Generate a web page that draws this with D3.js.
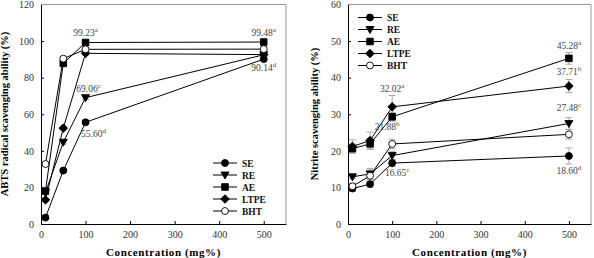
<!DOCTYPE html>
<html>
<head>
<meta charset="utf-8">
<script src="https://cdn.jsdelivr.net/npm/d3@7"></script>
<style>
  body { margin: 0; background: #fff; }
  svg { display: block; font-family: "Liberation Serif", "Times New Roman", serif; }
</style>
</head>
<body>
<div id="chart"></div>
<script>
// concentrations (mg%)
const conc = [10, 50, 100, 500];
const seriesNames = ["SE", "RE", "AE", "LTPE", "BHT"];

// ABTS radical scavenging ability (%)
const abtsSE = [3.5, 29.2, 55.60, 90.14];
const abtsRE = [17.2, 44.7, 69.06, 92.5];
const abtsAE = [18.0, 87.8, 99.23, 99.48];
const abtsLTPE = [13.2, 52.4, 93.3, 92.6];
const abtsBHT = [32.8, 90.4, 95.5, 95.6];
const abtsErr = [0.8, 1.0, 1.0, 0.8];

// nitrite scavenging ability (%)
const nitSE = [9.7, 10.9, 16.65, 18.60];
const nitRE = [12.9, 13.7, 18.7, 27.48];
const nitAE = [20.6, 21.9, 29.3, 45.28];
const nitLTPE = [21.2, 22.8, 32.02, 37.71];
const nitBHT = [10.3, 13.2, 21.88, 24.5];
const nitErrSE = [0.8, 0.8, 1.0, 2.2];
const nitErrRE = [0.5, 1.5, 1.2, 1.6];
const nitErrAE = [1.2, 1.5, 1.2, 1.6];
const nitErrLTPE = [1.8, 2.3, 3.1, 1.8];
const nitErrBHT = [0.8, 1.8, 1.3, 1.3];

const xTicks = [0, 100, 200, 300, 400, 500];
const abtsTicks = [0, 20, 40, 60, 80, 100, 120];
const nitTicks = [0, 10, 20, 30, 40, 50, 60];

// annotations: series, point index, value text, letter
const abtsNotes = [
  ["AE", 2, "99.23", "a"], ["AE", 3, "99.48", "a"], ["SE", 3, "90.14", "d"],
  ["RE", 2, "69.06", "c"], ["SE", 2, "55.60", "d"]
];
const nitNotes = [
  ["AE", 3, "45.28", "a"], ["LTPE", 3, "37.71", "b"], ["LTPE", 2, "32.02", "a"],
  ["RE", 3, "27.48", "c"], ["BHT", 2, "21.88", "b"], ["SE", 2, "16.65", "c"],
  ["SE", 3, "18.60", "d"]
];

const W = 594, H = 258;
const svg = d3.select("#chart").append("svg").attr("width", W).attr("height", H);

// marker shapes, drawn as paths around (0,0)
const shapes = {
  SE: {d: d3.symbol().type(d3.symbolCircle).size(38)(), fill: "#000"},
  RE: {d: "M-4,-3L4,-3L0,4Z", fill: "#000"},
  AE: {d: "M-3.3,-3.3H3.3V3.3H-3.3Z", fill: "#000"},
  LTPE: {d: "M0,-4.3L4.3,0L0,4.3L-4.3,0Z", fill: "#000"},
  BHT: {d: d3.symbol().type(d3.symbolCircle).size(38)(), fill: "#fff"}
};

function marker(g, name, x, y) {
  const s = shapes[name];
  g.append("path")
    .attr("d", s.d)
    .attr("transform", `translate(${x},${y})`)
    .attr("fill", s.fill)
    .attr("stroke", "#000")
    .attr("stroke-width", 0.9);
}

function drawPanel(o) {
  const x = d3.scaleLinear().domain([0, 550]).range([o.left, o.right]);
  const y = d3.scaleLinear().domain([0, o.ymax]).range([224, 4.5]);
  const g = svg.append("g");

  // frame (top/right in grey)
  g.append("line").attr("x1", o.left).attr("x2", o.right).attr("y1", 4.5).attr("y2", 4.5)
    .attr("stroke", "#999");
  g.append("line").attr("x1", o.right).attr("x2", o.right).attr("y1", 4.5).attr("y2", 224)
    .attr("stroke", "#999");

  const xAxis = g.append("g")
    .attr("transform", "translate(0,224)")
    .call(d3.axisBottom(x).tickValues(xTicks).tickSizeInner(-3).tickSizeOuter(0).tickPadding(7));
  const yAxis = g.append("g")
    .attr("transform", `translate(${o.left},0)`)
    .call(d3.axisLeft(y).tickValues(o.ticks).tickSizeInner(-3).tickSizeOuter(0).tickPadding(7));
  [xAxis, yAxis].forEach(a => {
    a.attr("font-family", "Liberation Serif");
    a.select(".domain").attr("stroke", "#000");
    a.selectAll(".tick line").attr("stroke", "#000");
    a.selectAll("text").attr("font-size", 10).attr("fill", "#333");
  });
  yAxis.select(".tick:last-of-type line").remove();

  // error bars
  seriesNames.forEach(name => {
    o.data[name].forEach((v, i) => {
      const e = o.err[name][i];
      const cx = x(conc[i]);
      g.append("line").attr("x1", cx).attr("x2", cx).attr("y1", y(v - e)).attr("y2", y(v + e))
        .attr("stroke", "#aaa");
      [v - e, v + e].forEach(t => g.append("line")
        .attr("x1", cx - 3.5).attr("x2", cx + 3.5).attr("y1", y(t)).attr("y2", y(t))
        .attr("stroke", "#aaa"));
    });
  });

  const line = d3.line().x((d, i) => x(conc[i])).y(d => y(d));
  seriesNames.forEach(name => {
    g.append("path").attr("d", line(o.data[name]))
      .attr("fill", "none").attr("stroke", "#000").attr("stroke-width", 1);
  });
  seriesNames.forEach(name => {
    o.data[name].forEach((v, i) => marker(g, name, x(conc[i]), y(v)));
  });

  // annotations
  o.notes.forEach((n, k) => {
    const [name, i, txt, sup] = n;
    const off = o.noteOffsets[k];
    const t = g.append("text")
      .attr("x", x(conc[i]) + off[0]).attr("y", y(o.data[name][i]) + off[1])
      .attr("text-anchor", "middle").attr("font-size", 9.5).attr("fill", "#444");
    t.append("tspan").text(txt);
    t.append("tspan").attr("dy", -4).attr("font-size", 7).text(sup);
  });

  // legend
  seriesNames.forEach((name, k) => {
    const ly = o.legY + k * 12;
    g.append("line").attr("x1", o.legX).attr("x2", o.legX + 24).attr("y1", ly).attr("y2", ly)
      .attr("stroke", "#000");
    marker(g, name, o.legX + 12, ly);
    g.append("text").attr("x", o.legX + 29).attr("y", ly + 3.5)
      .attr("font-size", 9.5).attr("font-weight", "bold").attr("fill", "#111").text(name);
  });

  // axis titles
  g.append("text").attr("x", (o.left + o.right) / 2).attr("y", 255.5)
    .attr("text-anchor", "middle").attr("font-size", 11).attr("font-weight", "bold")
    .attr("letter-spacing", 0.6).text("Concentration (mg%)");
  g.append("text")
    .attr("transform", `translate(${o.ylabX},${114}) rotate(-90)`)
    .attr("text-anchor", "middle").attr("font-size", 10.5).attr("font-weight", "bold")
    .text(o.ylabel);
}

drawPanel({
  left: 41, right: 286, ymax: 120, ticks: abtsTicks,
  data: {SE: abtsSE, RE: abtsRE, AE: abtsAE, LTPE: abtsLTPE, BHT: abtsBHT},
  err: {SE: abtsErr, RE: abtsErr, AE: abtsErr, LTPE: abtsErr, BHT: abtsErr},
  notes: abtsNotes,
  noteOffsets: [[0, -6], [0, -6], [0, 12], [3, -6], [8, 15]],
  legX: 213, legY: 163,
  ylabX: 8, ylabel: "ABTS radical scavenging ability (%)"
});

drawPanel({
  left: 348, right: 591, ymax: 60, ticks: nitTicks,
  data: {SE: nitSE, RE: nitRE, AE: nitAE, LTPE: nitLTPE, BHT: nitBHT},
  err: {SE: nitErrSE, RE: nitErrRE, AE: nitErrAE, LTPE: nitErrLTPE, BHT: nitErrBHT},
  notes: nitNotes,
  noteOffsets: [[0, -9], [0, -11], [0, -15], [0, -12], [-5, -14], [5, 13], [0, 18]],
  legX: 358, legY: 17.5,
  ylabX: 318, ylabel: "Nitrite scavenging ability (%)"
});
</script>
</body>
</html>
